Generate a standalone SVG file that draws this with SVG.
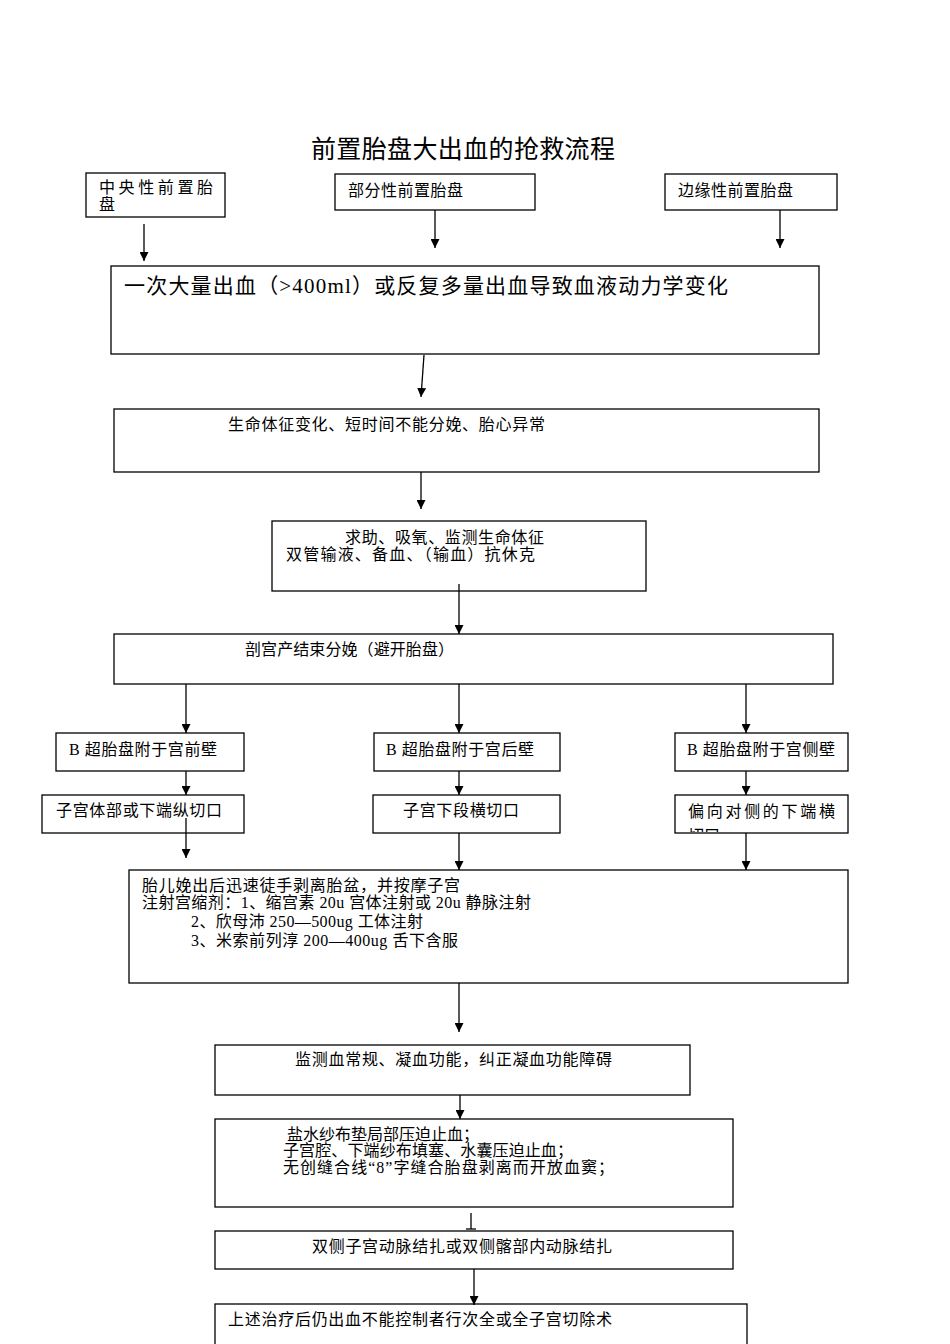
<svg xmlns="http://www.w3.org/2000/svg" width="950" height="1344" viewBox="0 0 950 1344">
<style>
rect.b{fill:#fff;stroke:#000;stroke-width:1.3}
text{font-family:"Liberation Serif","Noto Sans CJK SC",serif;font-size:16px;fill:#000}
.t{font-size:25px}
.big{font-size:21px}
#conn line{stroke:#000;stroke-width:1.3}
</style>
<defs>
<marker id="ah" viewBox="0 0 10 10" refX="10" refY="5" markerWidth="9" markerHeight="9" markerUnits="userSpaceOnUse" orient="auto">
<path d="M0,0 L10,5 L0,10 z" fill="#000"/>
</marker>
<clipPath id="cI3"><rect x="675" y="795" width="173" height="37"/></clipPath>
</defs>
<rect width="950" height="1344" fill="#fff"/>
<text class="t" x="311" y="158" textLength="304">前置胎盘大出血的抢救流程</text>

<g id="nA"><rect class="b" x="86" y="173" width="139" height="44"/>
<text x="99" y="193" textLength="114">中央性前置胎</text><text x="99" y="210">盘</text></g>
<g id="nB"><rect class="b" x="335" y="174" width="200" height="36"/>
<text x="348" y="196" textLength="115">部分性前置胎盘</text></g>
<g id="nC"><rect class="b" x="665" y="174" width="172" height="36"/>
<text x="678" y="196" textLength="115">边缘性前置胎盘</text></g>

<g id="nD"><rect class="b" x="111" y="266" width="708" height="88"/>
<text class="big" x="124" y="293" textLength="604">一次大量出血（&gt;400ml）或反复多量出血导致血液动力学变化</text></g>

<g id="nE"><rect class="b" x="114" y="409" width="705" height="63"/>
<text x="228" y="430" textLength="317">生命体征变化、短时间不能分娩、胎心异常</text></g>

<g id="nF"><rect class="b" x="272" y="521" width="374" height="70"/>
<text x="345" y="543" textLength="199">求助、吸氧、监测生命体征</text>
<text x="286" y="560" textLength="249">双管输液、备血、（输血）抗休克</text></g>

<g id="nG"><rect class="b" x="114" y="634" width="719" height="50"/>
<text x="245" y="655" textLength="209">剖宫产结束分娩（避开胎盘）</text></g>

<g id="nH1"><rect class="b" x="56" y="733" width="188" height="38"/>
<text x="69" y="755" textLength="148">B 超胎盘附于宫前壁</text></g>
<g id="nH2"><rect class="b" x="374" y="733" width="186" height="38"/>
<text x="386" y="755" textLength="148">B 超胎盘附于宫后壁</text></g>
<g id="nH3"><rect class="b" x="675" y="733" width="173" height="38"/>
<text x="687" y="755" textLength="148">B 超胎盘附于宫侧壁</text></g>

<g id="nI1"><rect class="b" x="42" y="795" width="202" height="38"/>
<text x="56" y="816" textLength="166">子宫体部或下端纵切口</text></g>
<g id="nI2"><rect class="b" x="373" y="795" width="187" height="38"/>
<text x="403" y="816" textLength="116">子宫下段横切口</text></g>
<g id="nI3"><rect class="b" x="675" y="795" width="173" height="38"/>
<g clip-path="url(#cI3)"><text x="688" y="817" textLength="147">偏向对侧的下端横</text>
<text x="688" y="841">切口</text></g></g>

<g id="nJ"><rect class="b" x="129" y="870" width="719" height="113"/>
<text x="142" y="891" textLength="318">胎儿娩出后迅速徒手剥离胎盆，并按摩子宫</text>
<text x="142" y="908" textLength="389">注射宫缩剂：1、缩宫素 20u 宫体注射或 20u 静脉注射</text>
<text x="191" y="927" textLength="232">2、欣母沛 250—500ug 工体注射</text>
<text x="191" y="946" textLength="267">3、米索前列淳 200—400ug 舌下含服</text></g>

<g id="nK"><rect class="b" x="215" y="1045" width="475" height="50"/>
<text x="295" y="1065" textLength="317">监测血常规、凝血功能，纠正凝血功能障碍</text></g>

<g id="nL"><rect class="b" x="215" y="1119" width="518" height="88"/>
<text x="287" y="1140" textLength="192">盐水纱布垫局部压迫止血；</text>
<text x="283" y="1156" textLength="290">子宫腔、下端纱布填塞、水囊压迫止血；</text>
<text x="283" y="1173" textLength="331">无创缝合线“8”字缝合胎盘剥离而开放血窦；</text></g>

<g id="nM"><rect class="b" x="215" y="1231" width="518" height="38"/>
<text x="312" y="1252" textLength="300">双侧子宫动脉结扎或双侧髂部内动脉结扎</text></g>

<g id="nN"><rect class="b" x="215" y="1304" width="532" height="50"/>
<text x="228" y="1325" textLength="384">上述治疗后仍出血不能控制者行次全或全子宫切除术</text></g>

<g id="conn">
<line x1="144" y1="224" x2="144" y2="261" marker-end="url(#ah)"/>
<line x1="435" y1="210" x2="435" y2="248" marker-end="url(#ah)"/>
<line x1="780" y1="210" x2="780" y2="248" marker-end="url(#ah)"/>
<line x1="424" y1="355" x2="421" y2="397" marker-end="url(#ah)"/>
<line x1="421" y1="472" x2="421" y2="509" marker-end="url(#ah)"/>
<line x1="459" y1="584" x2="459" y2="634" marker-end="url(#ah)"/>
<line x1="186" y1="684" x2="186" y2="733" marker-end="url(#ah)"/>
<line x1="459" y1="684" x2="459" y2="733" marker-end="url(#ah)"/>
<line x1="746" y1="684" x2="746" y2="733" marker-end="url(#ah)"/>
<line x1="186" y1="771" x2="186" y2="795" marker-end="url(#ah)"/>
<line x1="459" y1="771" x2="459" y2="795" marker-end="url(#ah)"/>
<line x1="746" y1="771" x2="746" y2="795" marker-end="url(#ah)"/>
<line x1="186" y1="818" x2="186" y2="858" marker-end="url(#ah)"/>
<line x1="459" y1="833" x2="459" y2="870" marker-end="url(#ah)"/>
<line x1="746" y1="833" x2="746" y2="870" marker-end="url(#ah)"/>
<line x1="459" y1="983" x2="459" y2="1032" marker-end="url(#ah)"/>
<line x1="460" y1="1095" x2="460" y2="1119" marker-end="url(#ah)"/>
<line x1="471" y1="1213" x2="471" y2="1229"/>
<line x1="466" y1="1229" x2="476" y2="1229"/>
<line x1="474" y1="1269" x2="474" y2="1305" marker-end="url(#ah)"/>
</g>
</svg>
